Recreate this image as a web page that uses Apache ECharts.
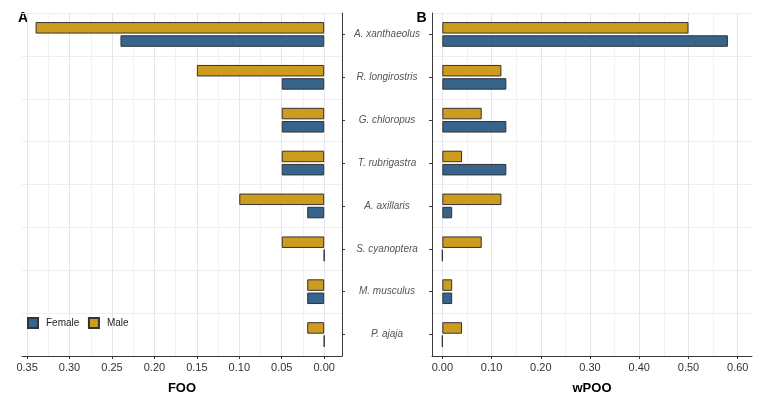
<!DOCTYPE html>
<html>
<head>
<meta charset="utf-8">
<script src="https://cdn.jsdelivr.net/npm/echarts@6/dist/echarts.min.js"></script>
<style>html,body{margin:0;padding:0;background:#fff}#c{width:767px;height:400px}</style>
</head>
<body>
<div id="c"></div>
<script>
// Data
var species = ['A. xanthaeolus','R. longirostris','G. chloropus','T. rubrigastra','A. axillaris','S. cyanoptera','M. musculus','P. ajaja'];
var fooMale   = [0.34, 0.15, 0.05, 0.05, 0.10, 0.05, 0.02, 0.02];
var fooFemale = [0.24, 0.05, 0.05, 0.05, 0.02, 0.00, 0.02, 0.00];
var wpooMale   = [0.50, 0.12, 0.08, 0.04, 0.12, 0.08, 0.02, 0.04];
var wpooFemale = [0.58, 0.13, 0.13, 0.13, 0.02, 0.00, 0.02, 0.00];
var fooTicks = [0, 0.05, 0.10, 0.15, 0.20, 0.25, 0.30, 0.35];
var fooMinor = [0.025, 0.075, 0.125, 0.175, 0.225, 0.275, 0.325];
var wpooTicks = [0, 0.1, 0.2, 0.3, 0.4, 0.5, 0.6];
var wpooMinor = [0.05, 0.15, 0.25, 0.35, 0.45, 0.55];

var colMale = '#CD9B1D', colFemale = '#36648B';
var axisCol = '#3a3a3a';
var chart = echarts.init(document.getElementById('c'), null, {renderer:'canvas'});

function mainX(grid, min, max, inverse, ticks, name) {
  return {
    type:'value', gridIndex:grid, min:min, max:max, inverse:inverse, position:'bottom',
    name:name, nameLocation:'middle', nameGap:26,
    nameTextStyle:{fontFamily:'Liberation Sans, Arial', fontWeight:'bold', fontSize:13, color:'#000'},
    axisLine:{show:true, onZero:false, lineStyle:{color:axisCol, width:1}},
    axisTick:{show:true, customValues:ticks, length:3, lineStyle:{color:axisCol}},
    axisLabel:{customValues:ticks, margin:6, fontFamily:'Liberation Sans, Arial', fontSize:11, color:'#333',
      formatter:function(v){return (+v).toFixed(2);}},
    splitLine:{show:true, lineStyle:{color:'#E6E6E6', width:1}}
  };
}
function minorX(grid, min, max, inverse, ticks) {
  return {
    type:'value', gridIndex:grid, min:min, max:max, inverse:inverse, position:'top',
    axisLine:{show:false}, axisTick:{show:false, customValues:ticks},
    axisLabel:{show:false, customValues:ticks},
    splitLine:{show:true, lineStyle:{color:'#F2F2F2', width:1}}
  };
}
function catY(grid, pos, showLabel) {
  return {
    type:'category', gridIndex:grid, data:species, inverse:true, position:pos,
    axisLine:{show:true, onZero:false, lineStyle:{color:axisCol, width:1}},
    axisTick:{show:true, alignWithLabel:true, length:3, lineStyle:{color:axisCol}},
    axisLabel:{show:showLabel, align:'center', margin:45, fontFamily:'Liberation Sans, Arial', fontStyle:'italic', fontSize:10, color:'#555'},
    splitLine:{show:true, lineStyle:{color:'#EEEEEE', width:1}}
  };
}
var barStyle = function(c){return {color:c, borderColor:'#333', borderWidth:1};};
var bw = 11.5, bg = '15%';

chart.setOption({
  animation:false,
  grid:[
    {left:22, top:13, width:320, height:343, containLabel:false},
    {left:432, top:13, width:320, height:343, containLabel:false}
  ],
  xAxis:[
    mainX(0, -0.021, 0.356, true, fooTicks, 'FOO'),
    minorX(0, -0.021, 0.356, true, fooMinor),
    mainX(1, -0.021, 0.629, false, wpooTicks, 'wPOO'),
    minorX(1, -0.021, 0.629, false, wpooMinor)
  ],
  yAxis:[ catY(0, 'right', true), catY(1, 'left', false) ],
  legend:{
    data:['Female','Male'], left:22, top:312, orient:'horizontal',
    itemWidth:10, itemHeight:10, itemGap:8.6, icon:'rect',
    textStyle:{fontFamily:'Liberation Sans, Arial', fontSize:10, color:'#222', padding:[0,0,0,3]}
  },
  graphic:[
    {type:'text', left:18, top:11, style:{text:'A', font:'bold 14px "Liberation Sans", Arial', fill:'#000'}},
    {type:'text', left:416.5, top:11, style:{text:'B', font:'bold 14px "Liberation Sans", Arial', fill:'#000'}}
  ],
  series:[
    {name:'Male', type:'bar', xAxisIndex:0, yAxisIndex:0, data:fooMale, barWidth:bw, barGap:bg, itemStyle:barStyle(colMale)},
    {name:'Female', type:'bar', xAxisIndex:0, yAxisIndex:0, data:fooFemale, barWidth:bw, barGap:bg, itemStyle:barStyle(colFemale)},
    {name:'Male', type:'bar', xAxisIndex:2, yAxisIndex:1, data:wpooMale, barWidth:bw, barGap:bg, itemStyle:barStyle(colMale)},
    {name:'Female', type:'bar', xAxisIndex:2, yAxisIndex:1, data:wpooFemale, barWidth:bw, barGap:bg, itemStyle:barStyle(colFemale)}
  ]
});
</script>
</body>
</html>
